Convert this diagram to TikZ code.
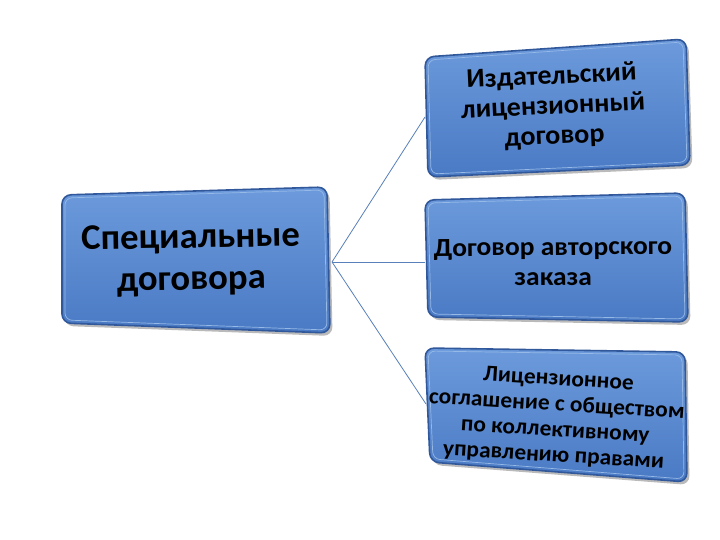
\documentclass[tikz,border=0pt]{standalone}
\usepackage{fontspec}
\setmainfont{Carlito}
\usetikzlibrary{shadows}
\definecolor{boxtop}{RGB}{108,154,220}
\definecolor{boxbot}{RGB}{74,122,196}
\definecolor{boxrim}{RGB}{48,88,154}
\definecolor{rimlight}{RGB}{150,185,230}
\definecolor{linkc}{RGB}{88,128,186}
\tikzset{
  panel/.style={draw=boxrim, line width=1.6pt, rounded corners=9pt,
    top color=boxtop, bottom color=boxbot,
    drop shadow={shadow xshift=2.5pt, shadow yshift=-3pt, opacity=0.45, fill=black!60}},
  rim/.style={draw=rimlight, line width=0.7pt, rounded corners=7pt},
  label/.style={font=\bfseries, align=center, text=black, inner sep=0pt},
  link/.style={draw=linkc, line width=0.8pt}
}
\begin{document}
\begin{tikzpicture}[x=1pt,y=-1pt]
\useasboundingbox (0,0) rectangle (720,540);
\fill[white] (0,0) rectangle (720,540);
% left box
\path[panel] (62,195) -- (327,187) -- (330,333) -- (62,323) -- cycle;
\path[rim] (65,198) -- (324,190) -- (327,330) -- (65,320) -- cycle;
% top right box
\path[panel] (425,57) -- (686,39) -- (690,165) -- (428,177) -- cycle;
\path[rim] (428,60) -- (683,42) -- (687,162) -- (431,174) -- cycle;
% middle right box
\path[panel] (425,200) -- (685,193) -- (688,322) -- (428,317) -- cycle;
\path[rim] (428,203) -- (682,196) -- (685,319) -- (431,314) -- cycle;
% bottom right box
\path[panel] (425,348) -- (685,352) -- (687,482) -- (430,462) -- cycle;
\path[rim] (428,351) -- (682,355) -- (684,479) -- (433,459) -- cycle;
% labels
\node[label, font=\bfseries\fontsize{36}{42}\selectfont, xscale=1.02, rotate=1] (main) at (191,260) {Специальные\\договора};
\node[label, font=\bfseries\fontsize{27}{30}\selectfont, xscale=1.04, rotate=2.7] (b1) at (553,107) {Издательский\\лицензионный\\договор};
\node[label, font=\bfseries\fontsize{26}{30}\selectfont, xscale=1.06, rotate=0.5] (b2) at (553,262) {Договор авторского\\заказа};
\node[label, font=\bfseries\fontsize{22.5}{25.5}\selectfont, xscale=1.04, rotate=-3.6] (b3) at (556,418) {Лицензионное\\соглашение с обществом\\по коллективному\\управлению правами};
% connector anchors
\coordinate (hub) at (332,262);
\coordinate (e1) at (425,117);
\coordinate (e2) at (425,262);
\coordinate (e3) at (426,404);
\draw[link] (hub) -- (e1);
\draw[link] (hub) -- (e2);
\draw[link] (hub) -- (e3);
\end{tikzpicture}
\end{document}
